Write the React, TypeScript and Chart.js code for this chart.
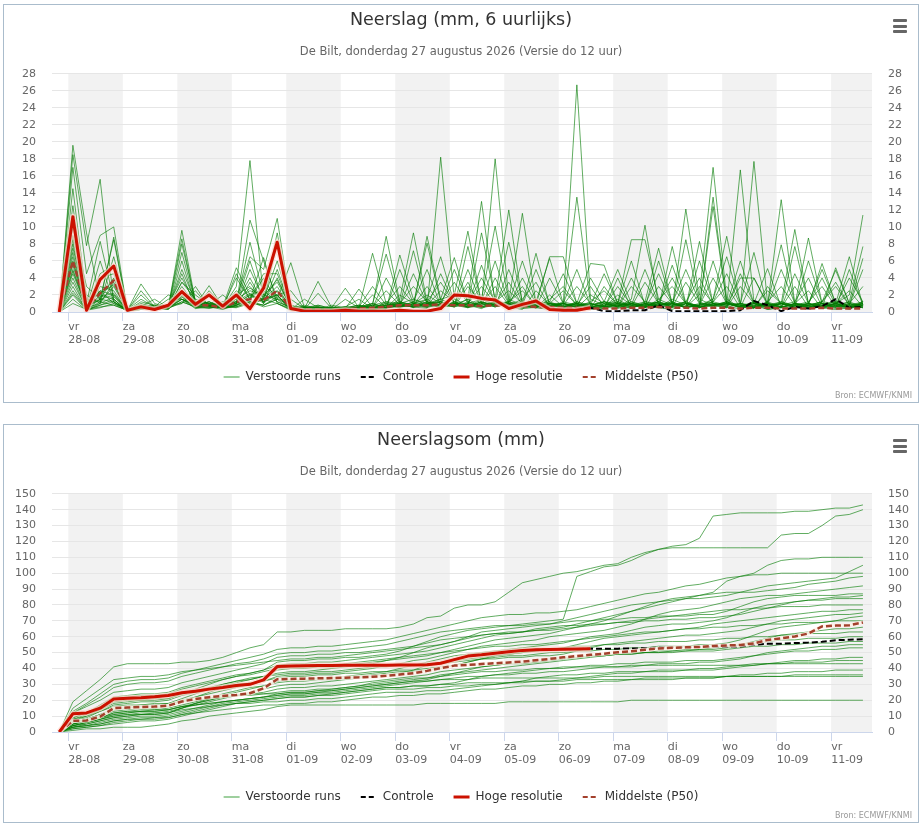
import React, { useEffect, useRef } from 'react';
import { Chart, registerables } from 'chart.js';

Chart.register(...registerables);
Chart.defaults.font.family = '"DejaVu Sans", Verdana, sans-serif';
Chart.defaults.color = '#666';

// ---- time axis (hours after 28-08 00:00, 6-hourly values) ----
const HOURS = [
  -4, 2, 8, 14, 20, 26, 32, 38, 44, 50, 56, 62, 68, 74, 80, 86, 92, 98, 104, 110,
  116, 122, 128, 134, 140, 146, 152, 158, 164, 170, 176, 182, 188, 194, 200, 206, 212, 218, 224, 230,
  236, 242, 248, 254, 260, 266, 272, 278, 284, 290, 296, 302, 308, 314, 320, 326, 332, 338, 344, 350,
];
const DAY_TICKS = [0, 24, 48, 72, 96, 120, 144, 168, 192, 216, 240, 264, 288, 312, 336];
const DAY_NAMES = ['vr', 'za', 'zo', 'ma', 'di', 'wo', 'do', 'vr', 'za', 'zo', 'ma', 'di', 'wo', 'do', 'vr'];
const DAY_DATES = ['28-08', '29-08', '30-08', '31-08', '01-09', '02-09', '03-09', '04-09', '05-09', '06-09', '07-09', '08-09', '09-09', '10-09', '11-09'];
const SHADED_DAYS = [0, 48, 96, 144, 192, 240, 288, 336];

// ---- 6-hourly precipitation (mm) ----
const HRES_6H = [0,
  11.2, 0.2, 3.8, 5.4, 0.2, 0.6, 0.3, 0.8, 2.4, 0.9, 2.0, 0.7, 2.0, 0.4, 2.8, 8.2,
  0.4, 0.1, 0.1, 0.1, 0.2, 0.1, 0.1, 0.1, 0.2, 0.1, 0.1, 0.4, 2.0, 1.9, 1.6, 1.4,
  0.4, 0.9, 1.3, 0.3, 0.2, 0.2, 0.5];
const CONTROL_6H = [0,
  11.2, 0.2, 3.8, 5.4, 0.2, 0.6, 0.3, 0.8, 2.4, 0.9, 2.0, 0.7, 2.0, 0.4, 2.8, 8.2,
  0.4, 0.1, 0.1, 0.1, 0.2, 0.1, 0.1, 0.1, 0.2, 0.1, 0.1, 0.4, 2.0, 1.9, 1.6, 1.4,
  0.4, 0.9, 1.3, 0.3, 0.2, 0.2, 0.5, 0.1, 0.1, 0.2, 0.2, 0.8, 0.1, 0.1, 0.1, 0.1,
  0.1, 0.2, 1.3, 0.8, 0.1, 0.6, 0.4, 0.7, 1.5, 0.5, 0.6];
const P50_6H = [0,
  6, 0.5, 2.2, 3.7, 0.2, 0.6, 0.4, 0.6, 2.4, 0.8, 0.8, 0.5, 1.2, 1.5, 1.4, 2.5,
  0.4, 0.3, 0.3, 0.2, 0.3, 0.4, 0.5, 0.6, 0.8, 0.8, 0.8, 0.9, 0.8, 0.8, 0.7, 0.8,
  0.7, 0.7, 0.6, 0.6, 0.5, 0.5, 0.4, 0.4, 0.4, 0.5, 0.5, 0.6, 0.5, 0.5, 0.4, 0.5,
  0.5, 0.4, 0.5, 0.5, 0.4, 0.4, 0.4, 0.5, 0.4, 0.4, 0.4];
const ENSEMBLE_6H = [
  [0, 19.6,9.3,1.2,0.8, 0.2,0.5,0.4,0.6, 5,1.2,0.8,0.5, 3,17.8,1.5,1, 0.4,0.2,0.5,0.3, 0.2,0.5,0.3,0.8, 1.2,0.6,0.4,18.2, 1.5,0.8,0.4,1.2, 0.6,0.3,2.5,0.8, 1,0.5,0.3,0.6, 0.8,0.4,1.2,7.5, 1,0.6,2,17, 1.5,0.5,0.8,0.3, 0.6,1,2.5,0.4, 0.8,0.3,1.2],
  [0, 18.5,7.8,15.6,1.2, 0.2,0.6,0.3,0.5, 1.5,0.8,2,0.4, 1,10.8,6,1.5, 0.8,0.3,0.2,0.2, 0.1,0.2,0.5,0.8, 1,0.5,1,1.5, 2,9.5,1,18, 1.5,0.8,0.5,0.3, 0.5,0.3,0.6,0.4, 4,0.5,1,0.5, 0.3,1,0.5,1.2, 3,0.5,1,0.3, 0.5,4.5,1,0.5, 0.3,0.5,1],
  [0, 17,4.5,9,10, 0.2,3.3,1,0.5, 9.6,1.2,1,0.5, 1.5,6.5,5,11, 0.5,0.4,3.6,0.5, 0.3,0.5,0.2,0.3, 6.7,1.5,1,0.5, 1,0.6,1.2,0.8, 1,0.5,0.5,2, 0.6,1,0.4,0.8, 1.5,0.6,0.8,1, 0.5,12.1,1.5,0.8, 1,0.6,0.4,3, 1,0.5,0.8,0.4, 1,2,11.4],
  [0, 14.5,1.5,1.2,8.8, 0.3,0.8,0.5,0.6, 8.6,1,0.8,0.6, 5.2,2,1.5,9.3, 0.6,0.3,0.4,0.2, 0.4,0.6,1,0.5, 1.5,9.3,1.2,0.8, 0.6,1,1.5,0.8, 1.2,11.6,1,0.5, 0.4,0.8,0.5,1, 0.6,3,1.2,0.8, 1,0.5,0.8,1.5, 8.9,1,0.5,0.8, 1.2,0.6,1,0.5, 5.2,1,0.5],
  [0, 12.5,1,8.3,1.5, 0.1,0.7,1.5,0.5, 1,3,0.6,0.8, 1,8.2,2,1.5, 5.8,0.5,0.3,0.4, 0.5,0.3,0.8,1.2, 0.6,1,2,1, 0.8,1.5,13,1, 0.6,1,0.8,0.4, 0.5,0.8,3,0.6, 0.4,1,0.6,0.8, 1.2,0.5,8.3,1, 0.6,0.4,1,0.8, 0.5,3,0.6,1, 0.4,0.8,0.5],
  [0, 10,3,1.5,8.5, 0.2,0.5,0.6,2, 1.5,0.8,3.1,0.6, 1.2,4,1,8.2, 0.4,0.6,0.3,0.5, 2.8,0.5,0.3,0.6, 1,0.8,8.9,1.5, 0.8,0.5,1.2,0.6, 1,0.4,0.6,1.5, 3,0.8,0.5,1, 0.6,1.5,10.2,0.8, 0.5,1,0.6,0.8, 1.2,0.5,17.7,1, 0.6,0.8,0.4,1, 0.5,5,0.8],
  [0, 9,2,1,6.5, 0.3,0.4,0.8,0.5, 8,1.2,1,0.4, 4.5,1.5,3,2, 0.3,1.5,0.5,0.2, 0.5,0.8,0.4,1, 0.8,7.2,1,0.6, 1.2,0.6,1,1.5, 12,1,0.6,0.8, 0.5,1,0.4,3, 0.8,0.5,1,0.6, 1.5,0.8,0.5,1, 0.6,4,4,0.8, 1,0.5,0.8,0.6, 1,0.4,0.8],
  [0, 8,0.5,6,1.2, 0.2,2.5,0.6,0.4, 1.2,0.6,0.8,2, 0.8,1.5,6.4,1, 0.3,0.5,0.2,0.6, 0.4,2.7,0.5,0.8, 1,0.6,1.5,6.5, 1,0.5,0.8,1.2, 0.6,1,6.9,0.8, 0.5,1.2,0.6,0.4, 1,0.8,0.5,1.5, 3,1,0.6,13.5, 1,0.8,0.5,1.2, 0.6,0.4,1,4, 0.8,0.5,1],
  [0, 7,0.4,4.5,5.5, 0.3,2,0.5,0.8, 1,2.5,0.6,0.5, 1,6,1.2,2, 2.5,0.4,0.6,0.3, 0.2,0.5,6.9,1, 0.6,1.2,0.8,1.5, 6.4,1,0.5,0.8, 1,0.6,1.2,6.3, 1,0.5,0.8,0.6, 2,0.8,0.5,1, 0.6,1.2,4,0.8, 0.5,1,0.6,0.8, 13.2,1,0.5,0.8, 0.6,1,3],
  [0, 6,0.5,4,4.5, 0.2,0.8,0.4,1.5, 1.5,0.6,2.5,0.8, 0.6,3.5,1,5, 0.5,0.3,0.8,0.4, 0.6,0.3,2,0.5, 1,0.8,8.1,1.2, 0.8,1.5,0.6,1, 3.5,0.8,0.5,1, 1,26.7,1.5,0.8, 0.5,1,0.6,0.8, 1,0.5,0.8,4, 1,0.6,1.2,0.5, 1,9.7,1,0.6, 0.8,0.5,1],
  [0, 5.5,0.3,3,2.5, 0.1,0.6,0.3,0.5, 7,1,0.8,0.6, 2.5,1,1.5,6, 0.6,0.3,2.2,0.4, 0.3,0.6,0.8,8.9, 1.2,0.8,0.6,1, 0.6,7.7,1,0.8, 1.2,3,0.6,1, 0.8,0.5,2,1, 0.6,1.2,0.8,0.5, 7.7,1,0.6,0.8, 1,0.5,4,1, 0.6,0.8,0.5,1.2, 3.5,0.8,0.5],
  [0, 5,0.4,2.5,2, 0.3,1.5,0.6,0.4, 6,0.8,1.2,0.6, 4,1.5,4.5,4.5, 0.5,0.6,0.3,0.8, 0.5,0.4,1,6.8, 1,1.5,0.8,0.6, 1,0.8,9.3,1.5, 0.8,1,0.6,4, 1,0.6,0.8,1.2, 1,8.5,8.5,1.5, 0.8,0.6,1,0.8, 0.5,3,1,0.6, 1,0.8,8.7,1, 0.6,0.8,1.2],
  [0, 4.5,0.5,2,1.5, 0.2,1.2,0.8,0.6, 4.5,0.6,0.4,0.8, 1,2,1.2,4, 0.4,0.6,0.5,0.3, 1.5,0.5,0.8,0.4, 5,1,0.6,1.2, 0.8,1,3,1, 8.2,1.2,0.8,0.5, 1,0.6,1.2,2.5, 0.8,0.5,1,0.6, 5.5,1,0.6,0.8, 1,0.5,0.8,1, 7.9,1,0.6,0.5, 1,2.5,0.6],
  [0, 4,0.3,1.5,4, 0.2,0.4,0.5,0.8, 4,1,0.6,0.5, 0.8,5,1.5,2, 0.3,0.5,0.8,0.4, 0.6,1.5,0.4,0.8, 0.6,1.2,5,0.8, 1,0.6,1.5,10.1, 1.2,0.8,0.6,1, 0.5,13.5,1,0.6, 0.8,1,0.5,3, 1,0.6,0.8,1.2, 4.5,0.8,0.6,1, 0.5,1,0.8,5.7, 1,0.6,0.8],
  [0, 3,0.2,1,3.5, 0.1,0.3,0.6,0.4, 3.5,2,0.8,0.5, 0.6,1.2,0.8,1.5, 1.5,0.4,0.3,0.6, 0.4,0.8,0.5,4, 1,0.6,1.2,0.8, 5,1.2,0.6,1, 0.8,1.5,3.5,0.6, 1,0.8,0.5,1.2, 5,1,0.6,0.8, 1,0.5,3,1, 0.8,16.7,1.2,0.6, 1,0.5,0.8,1, 0.6,1.2,7.7],
  [0, 2.5,0.3,1.2,3, 0.2,0.6,0.4,0.5, 3,0.8,1.2,0.4, 0.8,1.5,4,1.2, 0.6,0.2,0.5,0.3, 0.5,0.3,0.6,1, 3,1,0.8,1.2, 0.6,3,1,0.8, 1,6,1.2,0.6, 0.8,1,0.5,0.6, 3,0.8,1.2,1, 0.6,8.5,1,0.8, 1,0.6,0.5,1.2, 3,0.8,1,0.6, 1,0.8,6.3],
  [0, 2,0.2,0.8,1.5, 0.1,0.5,0.3,0.6, 2.5,0.6,1,0.8, 1.2,0.8,1.5,3, 0.4,0.6,0.3,0.2, 0.3,0.6,3,0.8, 0.5,1,1.5,0.6, 1.2,0.8,5.5,1, 0.6,0.8,1,1.2, 4.5,1,0.6,0.8, 1,0.6,3.5,1, 0.8,1.2,0.6,12.4, 1,0.8,0.6,1, 0.8,1.2,4,0.6, 1,0.5,0.8],
  [0, 1.5,0.2,0.5,1, 0.1,0.3,0.5,0.4, 2,0.5,0.8,0.6, 0.5,1,0.8,1.5, 0.3,0.2,0.6,0.4, 0.2,0.5,0.3,0.6, 0.8,4.5,1,0.8, 1,0.6,1.2,6, 1,0.8,0.5,1, 0.8,3,1,0.6, 0.8,1.2,0.6,6, 1,0.8,0.5,1, 0.6,4.5,1,0.8, 0.5,1,0.8,1.2, 4.9,1,0.6],
  [0, 1,0.3,0.6,0.8, 0.2,0.4,0.3,0.6, 1.5,0.4,0.6,0.3, 0.8,1.2,0.6,1, 0.2,0.3,0.5,0.2, 0.4,0.2,0.6,2.5, 0.8,0.6,1,1.2, 0.8,5,1,0.6, 1.2,0.8,5,1, 0.6,1,0.8,1.2, 0.6,4,1,0.8, 1.2,0.6,6,1, 0.8,1,0.6,2.5, 1,0.6,0.8,1.2, 1,6.5,0.8],
  [0, 6.5,0.6,1.5,2, 0.2,0.8,0.5,0.3, 2.5,1.2,0.6,1, 1.5,2.5,2,3.5, 0.6,0.4,0.2,0.5, 0.3,0.6,1,0.5, 2,1,0.6,4.5, 1,0.8,1.2,0.6, 5,1,0.8,1.2, 0.6,1,5.7,5.5, 1,0.8,0.6,1.2, 0.8,1,0.6,1.5, 6.5,1,0.8,0.6, 1,0.8,1.2,3, 0.6,1,0.8],
  [0, 5.8,0.8,2.5,1, 0.3,0.5,0.8,0.6, 3.5,1.5,1,0.6, 2,3,1.2,2.5, 0.8,0.3,0.6,0.4, 0.5,0.8,0.4,1.2, 1,3,1.2,0.6, 0.8,1,4,1.2, 0.6,1,0.8,6.5, 6.5,1,0.6,0.8, 1.2,0.6,1,0.8, 1,5,1.2,0.6, 1,0.8,0.5,1, 0.6,7.7,1,0.8, 1.2,0.6,1],
  [0, 8.5,0.5,1,1.8, 0.2,0.6,0.4,0.8, 1.8,0.6,1.2,0.5, 1,2,2.5,1.2, 0.5,0.8,0.4,0.3, 0.6,0.4,0.8,0.6, 1.2,0.8,3,1, 0.6,1.2,0.8,4, 1,0.6,1.2,0.8, 1,5,0.8,1.2, 0.6,1,0.8,4.5, 1,0.6,0.8,1.2, 0.8,1,7,0.6, 1,0.8,0.6,1, 0.8,4,1.2],
  [0, 3.5,0.4,1.8,2.2, 0.2,1,0.6,0.4, 1.5,0.8,0.5,0.6, 1.2,2.2,1,2.5, 0.4,0.6,0.3,0.5, 0.2,0.5,0.6,0.4, 0.8,0.6,1.2,3.5, 1,0.8,0.6,1.2, 0.8,4,1,0.6, 1.2,0.8,1,0.6, 1,6,0.8,1.2, 0.6,1,0.8,6, 1,0.6,1.2,0.8, 1,0.6,6,1, 0.8,1.2,0.6],
  [0, 4.8,0.6,1.5,1.2, 0.1,0.6,0.3,0.5, 1.2,0.6,0.8,0.4, 0.8,1.8,1.5,2, 0.3,0.5,0.6,0.2, 0.4,0.3,0.5,0.8, 0.6,1,0.8,2.5, 1.2,0.6,1,3, 0.8,1.2,0.6,1, 2.5,0.8,1,0.6, 1.2,0.8,5,1, 0.8,1.2,0.6,1, 0.8,6,1,0.6, 1.2,0.8,1,5, 1,0.6,1.2],
  [0, 7.5,1.2,2.2,3.2, 0.3,0.8,0.6,0.5, 2.2,1,0.8,1.2, 1.2,2.8,1.8,3.8, 0.6,0.4,0.5,0.3, 0.4,0.6,0.3,0.5, 0.8,0.6,1,1.2, 3.5,1,0.8,1.2, 2.5,1,0.8,0.6, 1,0.6,4,1.2, 0.8,1,0.6,1.2, 4,1,0.8,0.6, 1.2,0.8,1,5.1, 0.6,1,0.8,1.2, 3,0.8,1],
  [0, 2.2,0.3,0.8,1.2, 0.2,0.5,0.4,0.3, 1.8,0.5,0.6,0.8, 0.6,1.2,0.8,1.8, 0.3,0.5,0.2,0.4, 0.6,0.4,0.3,0.5, 0.6,0.8,0.5,1, 0.8,3.5,0.6,1, 1.2,2.5,0.8,1, 0.6,1.2,0.8,4.5, 1,0.6,0.8,1.2, 0.6,3.5,1,0.8, 1.2,0.6,1,0.8, 5,1,0.6,0.8, 1.2,0.8,5],
];

// ---- accumulated precipitation (mm) ----
const HRES_SUM = [0,
  11.5, 12, 15, 20.8, 21.2, 21.6, 22.2, 23, 24.7, 25.7, 27, 28, 29.3, 30, 32.8, 41.2,
  41.6, 41.7, 41.8, 41.9, 42, 42, 42.1, 42.1, 42.2, 42.2, 42.3, 43.3, 45.6, 47.8, 48.6, 49.6,
  50.5, 51.4, 51.8, 52, 52.1, 52.3, 52.4];
const CONTROL_SUM = [0,
  11.5, 12, 15, 20.8, 21.2, 21.6, 22.2, 23, 24.7, 25.7, 27, 28, 29.3, 30, 32.8, 41.2,
  41.6, 41.7, 41.8, 41.9, 42, 42, 42.1, 42.1, 42.2, 42.2, 42.3, 43.3, 45.6, 47.8, 48.6, 49.6,
  50.5, 51.4, 51.8, 52, 52.1, 52.3, 52.4, 52.5, 52.5, 52.6, 52.7, 53.2, 53.3, 53.4, 53.5, 53.6,
  53.7, 53.9, 55.0, 55.5, 55.6, 56.0, 56.3, 56.8, 57.8, 58.1, 58.4];
const P50_SUM = [0,
  7, 7.2, 9.7, 15, 15.4, 15.8, 16, 16.6, 19.2, 20.8, 21.9, 22.7, 23.3, 24.4, 27.5, 33.2,
  33.4, 33.6, 33.8, 34, 34.2, 34.4, 34.8, 35.4, 36.2, 37, 38.5, 40.2, 41.8, 42.3, 42.8, 43.3,
  43.8, 44.3, 45.2, 46, 47, 47.8, 48.6, 49.3, 50.2, 50.8, 51.8, 52.6, 53, 53.3, 53.6, 54.2,
  54.5, 54.8, 55.8, 58, 59, 60.2, 62, 66.5, 67, 67.2, 69];
const ENSEMBLE_SUM = [
  [0, 19,26,33,41, 43,43,43,43, 44,44,45,47, 50,53,55,63, 63,64,64,64, 65,65,65,65, 66,68,72,73, 78,80,80,82, 88,94,96,98, 100,101,103,105, 106,110,113,115, 117,118,122,136, 137,138,138,138, 138,139,139,140, 141,141,143],
  [0, 9,12,17,22, 23,24,24,25, 28,30,32,34, 36,37,39,44, 45,45,46,46, 47,47,48,49, 51,54,57,60, 62,64,65,66, 67,68,69,70, 71,98,101,104, 105,108,112,115, 116,116,116,116, 116,116,116,116, 124,125,125,130, 136,137,140],
  [0, 12,16,20,25, 26,27,27,28, 31,33,35,37, 39,41,43,47, 48,48,49,49, 50,50,51,52, 53,54,56,58, 59,60,61,62, 62,63,64,65, 66,68,70,72, 74,76,78,80, 82,84,86,88, 95,98,100,105, 108,109,109,110, 110,110,110],
  [0, 7,9,13,17, 18,19,19,20, 23,25,27,29, 31,33,35,39, 40,40,41,41, 42,43,44,45, 47,50,53,55, 57,60,63,64, 65,66,67,68, 70,72,74,76, 78,80,81,82, 83,84,84,85, 86,88,90,92, 93,94,95,96, 97,101,105],
  [0, 13,18,24,30, 32,33,33,34, 37,39,41,43, 45,47,49,52, 53,53,54,54, 55,56,57,58, 60,62,64,66, 68,70,72,73, 74,74,75,75, 76,77,79,81, 83,85,87,88, 90,92,93,95, 97,98,99,99, 100,100,100,100, 100,100,100],
  [0, 8,10,14,19, 20,20,21,21, 24,26,28,30, 32,33,35,37, 38,38,39,40, 41,42,43,45, 46,47,48,50, 52,54,56,58, 59,60,61,62, 64,66,68,70, 73,76,79,82, 84,85,86,87, 88,88,88,89, 90,91,93,94, 95,97,98],
  [0, 6,8,11,14, 15,16,16,17, 20,22,24,26, 28,30,32,35, 36,36,37,37, 38,39,40,42, 43,45,46,48, 50,52,54,55, 56,57,58,60, 61,62,63,64, 66,68,71,74, 76,77,78,80, 82,84,85,86, 86,87,88,89, 90,91,92],
  [0, 12,17,22,28, 30,31,31,32, 35,37,39,41, 43,44,46,49, 50,50,51,51, 52,53,54,55, 57,59,61,63, 64,65,66,67, 67,67,68,68, 69,70,70,71, 71,72,72,73, 73,73,74,74, 76,79,82,84, 85,86,86,86, 86,87,87],
  [0, 5,7,9,12, 13,14,14,15, 17,19,21,23, 25,27,29,32, 33,33,34,34, 35,36,37,38, 40,42,44,46, 48,49,50,51, 52,53,54,55, 56,58,60,61, 62,64,66,67, 68,68,69,70, 72,75,78,80, 81,82,83,84, 85,85,86],
  [0, 8,11,14,18, 19,20,20,21, 24,27,30,33, 35,37,39,42, 43,43,44,44, 45,46,47,48, 49,50,51,53, 55,57,59,61, 62,63,65,66, 67,67,68,68, 69,69,70,70, 71,71,72,72, 73,74,76,78, 80,82,83,83, 84,84,84],
  [0, 15,21,27,33, 34,35,35,36, 38,39,40,41, 42,43,44,45, 46,46,47,47, 48,49,50,51, 52,53,54,55, 57,59,61,62, 63,63,64,64, 65,66,67,68, 69,70,71,72, 73,74,75,76, 77,77,78,78, 79,79,79,80, 80,80,80],
  [0, 4,6,8,10, 11,12,12,13, 15,17,19,21, 23,25,27,29, 30,30,31,32, 33,34,35,36, 37,39,42,44, 45,46,47,48, 49,50,51,52, 53,55,57,59, 60,61,62,63, 64,65,66,68, 69,70,71,72, 73,74,75,76, 76,77,77],
  [0, 6,8,11,15, 16,17,17,18, 21,24,27,30, 32,34,35,36, 37,37,38,38, 39,40,41,41, 42,42,43,43, 44,45,46,46, 47,47,48,48, 49,51,53,55, 56,57,58,59, 60,61,61,62, 63,64,66,68, 70,71,72,73, 74,74,75],
  [0, 5,7,10,13, 14,15,15,16, 19,22,25,28, 30,31,32,34, 35,35,36,36, 37,37,38,38, 39,39,40,41, 42,44,46,47, 48,48,49,50, 50,51,51,52, 52,53,53,54, 54,54,55,55, 56,58,61,64, 66,67,68,69, 70,72,73],
  [0, 9,12,16,21, 22,23,23,24, 27,29,31,33, 35,36,38,40, 41,41,42,42, 43,44,45,46, 47,48,49,50, 51,52,53,54, 54,55,55,56, 57,58,59,60, 61,62,63,63, 64,65,65,66, 66,67,67,68, 68,69,69,69, 70,70,70],
  [0, 4,6,8,11, 12,13,13,14, 16,18,20,22, 23,24,25,27, 28,28,29,29, 30,31,32,33, 34,35,36,38, 39,40,41,42, 43,43,44,45, 46,47,48,48, 49,49,50,50, 51,51,52,52, 53,55,57,59, 61,62,63,64, 65,65,66],
  [0, 3,5,7,9, 10,11,11,12, 15,18,21,24, 26,28,29,31, 32,32,33,33, 34,35,36,37, 38,38,39,40, 42,44,46,48, 49,50,51,52, 53,54,54,55, 55,56,56,57, 57,57,58,58, 59,59,60,60, 61,61,62,62, 62,63,63],
  [0, 7,10,13,16, 17,17,18,18, 19,20,21,22, 23,24,24,25, 26,26,27,27, 28,29,30,31, 32,33,34,36, 37,38,39,40, 41,42,43,44, 45,46,47,48, 49,50,50,51, 51,52,52,53, 54,55,56,57, 58,58,59,59, 59,60,60],
  [0, 3,4,6,8, 9,10,10,11, 13,15,17,19, 20,21,22,24, 25,25,26,26, 27,28,29,30, 31,32,33,35, 37,39,41,42, 43,44,45,46, 47,47,48,48, 49,49,50,50, 50,51,51,51, 52,53,54,54, 55,55,56,56, 56,57,57],
  [0, 5,7,9,12, 13,13,14,14, 16,17,18,19, 20,21,22,23, 24,24,25,25, 26,27,28,29, 30,31,32,33, 34,35,35,36, 36,37,37,38, 38,39,40,41, 41,42,42,43, 43,43,44,44, 45,46,48,50, 51,52,53,54, 54,55,55],
  [0, 3,4,5,7, 8,9,9,10, 12,14,16,18, 19,20,21,22, 23,23,24,24, 25,26,27,28, 28,29,29,30, 31,33,35,36, 37,38,39,40, 41,41,42,42, 43,43,44,44, 44,45,45,45, 46,47,48,49, 50,51,51,52, 52,53,53],
  [0, 4,6,8,10, 11,11,12,12, 14,15,16,17, 18,19,20,21, 22,22,23,23, 24,25,26,27, 27,27,28,28, 29,29,30,30, 31,31,32,32, 33,34,35,36, 37,37,38,38, 38,39,39,39, 40,41,42,43, 44,45,45,46, 46,47,47],
  [0, 2,3,4,6, 7,8,8,9, 11,13,15,17, 18,18,19,19, 20,20,21,21, 22,23,24,25, 25,25,26,26, 27,28,29,30, 31,32,34,35, 36,36,37,37, 38,38,38,39, 39,39,40,40, 41,42,42,43, 43,44,44,44, 45,45,45],
  [0, 4,5,7,9, 10,11,11,12, 15,18,20,22, 23,23,24,24, 25,25,26,27, 28,29,31,32, 33,34,34,35, 36,37,38,38, 39,39,40,40, 40,41,41,41, 41,41,42,42, 42,42,42,42, 42,42,43,43, 43,43,43,43, 43,43,43],
  [0, 3,4,5,7, 8,8,9,9, 11,12,13,14, 15,16,17,17, 18,18,19,19, 20,21,22,22, 23,23,24,24, 25,26,27,27, 28,29,29,30, 30,31,31,32, 32,33,33,33, 33,34,34,34, 35,36,36,37, 37,38,38,38, 39,39,39],
  [0, 2,3,4,5, 6,7,7,8, 10,12,14,16, 18,19,20,21, 22,22,23,24, 25,26,27,28, 28,29,29,30, 30,31,31,31, 31,32,32,32, 32,33,33,33, 33,33,34,34, 34,34,34,34, 35,35,35,35, 35,36,36,36, 36,36,36],
  [0, 5,7,9,11, 12,13,13,14, 16,17,18,19, 20,21,22,23, 24,24,25,26, 27,28,29,30, 31,32,32,33, 33,33,34,34, 34,34,34,34, 34,34,34,35, 35,35,35,35, 35,35,35,35, 35,35,35,35, 35,35,35,35, 35,35,35],
  [0, 1,2,2,3, 3,3,4,5, 7,8,10,11, 12,13,14,16, 17,17,17,17, 17,17,17,17, 17,17,18,18, 18,18,18,18, 19,19,19,19, 19,19,19,19, 19,20,20,20, 20,20,20,20, 20,20,20,20, 20,20,20,20, 20,20,20],
];

const SUBTITLE = 'De Bilt, donderdag 27 augustus 2026 (Versie do 12 uur)';
const MEMBER_COLOR = 'rgba(0,122,0,0.62)';
const HRES_COLOR = '#cc1100';
const P50_COLOR = '#a3402c';

const toXY = (arr: number[]) => arr.map((v, i) => ({ x: HOURS[i], y: v }));

const decorPlugin = {
  id: 'decor',
  beforeDraw(chart: any) {
    const { ctx, chartArea, scales } = chart;
    const xs = scales.x;
    ctx.save();
    ctx.fillStyle = '#f2f2f2';
    SHADED_DAYS.forEach((d) => {
      const a = Math.max(xs.getPixelForValue(d), chartArea.left);
      const b = Math.min(xs.getPixelForValue(d + 24), chartArea.right);
      if (b > a) ctx.fillRect(a, chartArea.top, b - a, chartArea.bottom - chartArea.top);
    });
    ctx.restore();
  },
};

function buildConfig(title: string, yMax: number, yStep: number, members: number[][], control: number[], hres: number[], p50: number[], p50Halo: boolean): any {
  const datasets: any[] = [
    { label: 'Hoge resolutie', data: toXY(hres), borderColor: HRES_COLOR, borderWidth: 3, order: 0 },
    { label: 'hres-halo', data: toXY(hres), borderColor: 'rgba(255,215,205,0.7)', borderWidth: 6, order: 1 },
    { label: 'Middelste (P50)', data: toXY(p50), borderColor: P50_COLOR, borderWidth: 2.5, borderDash: [6, 3], order: 2 },
    { label: 'p50-halo', data: toXY(p50), borderColor: p50Halo ? 'rgba(255,240,232,0.85)' : 'rgba(0,0,0,0)', borderWidth: 4, order: 3 },
    { label: 'Controle', data: toXY(control), borderColor: '#000', borderWidth: 2, borderDash: [6, 3], order: 4 },
    ...members.map((m, k) => ({ label: 'run ' + (k + 1), data: toXY(m), borderColor: MEMBER_COLOR, borderWidth: 1, order: 5 })),
  ];
  const legendItems = [
    { text: 'Verstoorde runs', strokeStyle: 'rgba(0,128,0,0.38)', lineWidth: 2, lineDash: [] },
    { text: 'Controle', strokeStyle: '#000', lineWidth: 2, lineDash: [5, 3] },
    { text: 'Hoge resolutie', strokeStyle: HRES_COLOR, lineWidth: 3, lineDash: [] },
    { text: 'Middelste (P50)', strokeStyle: P50_COLOR, lineWidth: 2, lineDash: [5, 3] },
  ];
  const yTicks = { stepSize: yStep, padding: 16, font: { size: 11 }, color: '#666', autoSkip: false };
  return {
    type: 'line',
    data: { datasets },
    plugins: [decorPlugin],
    options: {
      responsive: false,
      animation: false,
      events: [],
      elements: {
        point: { radius: 0 },
        line: { tension: 0, borderJoinStyle: 'round', borderCapStyle: 'butt', fill: false },
      },
      layout: { padding: { left: 0, right: 0, top: 0, bottom: 9 } },
      scales: {
        x: {
          type: 'linear',
          position: 'bottom',
          min: -7.2,
          max: 354,
          afterBuildTicks: (scale: any) => {
            scale.ticks = DAY_TICKS.map((v) => ({ value: v }));
          },
          afterFit: (scale: any) => {
            scale.height = 39;
          },
          ticks: {
            autoSkip: false,
            maxRotation: 0,
            minRotation: 0,
            align: 'start',
            padding: -1,
            font: { size: 11, lineHeight: 1.25 },
            color: '#666',
            callback: (value: number) => {
              const k = DAY_TICKS.indexOf(value);
              return k >= 0 ? [DAY_NAMES[k], DAY_DATES[k]] : '';
            },
          },
          grid: { drawOnChartArea: false, drawTicks: true, tickLength: 9, color: '#ccd6eb' },
          border: { display: true, color: '#ccd6eb' },
        },
        y: {
          type: 'linear',
          position: 'left',
          min: 0,
          max: yMax,
          afterFit: (scale: any) => {
            scale.width = 48;
          },
          ticks: yTicks,
          grid: { color: '#e6e6e6', drawTicks: false },
          border: { display: false },
        },
        y2: {
          type: 'linear',
          position: 'right',
          min: 0,
          max: yMax,
          afterFit: (scale: any) => {
            scale.width = 46;
          },
          ticks: yTicks,
          grid: { drawOnChartArea: false, drawTicks: false },
          border: { display: false },
        },
      },
      plugins: {
        tooltip: { enabled: false },
        title: {
          display: true,
          text: title,
          color: '#333',
          font: { size: 17.5, weight: 'normal' },
          padding: { top: 5, bottom: 0 },
        },
        subtitle: {
          display: true,
          text: SUBTITLE,
          color: '#666',
          font: { size: 11.5, weight: 'normal' },
          padding: { top: 14, bottom: 15 },
        },
        legend: {
          display: true,
          position: 'bottom',
          onClick: () => {},
          labels: {
            usePointStyle: true,
            pointStyleWidth: 16,
            boxHeight: 12,
            padding: 20,
            color: '#333',
            font: { size: 12 },
            generateLabels: () =>
              legendItems.map((it, i) => ({
                text: it.text,
                fillStyle: it.strokeStyle,
                strokeStyle: it.strokeStyle,
                lineWidth: it.lineWidth,
                lineDash: it.lineDash,
                lineCap: 'butt',
                pointStyle: 'line',
                hidden: false,
                fontColor: '#333',
                datasetIndex: i,
              })),
          },
        },
      },
    },
  };
}

function Panel(props: { top: number; config: () => any }) {
  const ref = useRef<HTMLCanvasElement | null>(null);
  useEffect(() => {
    if (!ref.current) return;
    const chart = new Chart(ref.current, props.config());
    return () => chart.destroy();
  }, []);
  return (
    <div
      style={{
        position: 'absolute',
        left: 3,
        top: props.top,
        width: 914,
        height: 397,
        border: '1px solid #aabccc',
        background: '#fff',
      }}
    >
      <canvas ref={ref} width={914} height={397} style={{ display: 'block', width: 914, height: 397 }} />
      <div style={{ position: 'absolute', left: 889, top: 14, width: 14 }}>
        <div style={{ height: 3, background: '#666', borderRadius: 1 }} />
        <div style={{ height: 3, background: '#666', borderRadius: 1, marginTop: 2.5 }} />
        <div style={{ height: 3, background: '#666', borderRadius: 1, marginTop: 2.5 }} />
      </div>
      <span
        style={{
          position: 'absolute',
          right: 6,
          top: 386,
          fontFamily: '"DejaVu Sans", Verdana, sans-serif',
          fontSize: 8,
          lineHeight: '10px',
          color: '#999',
          whiteSpace: 'nowrap',
        }}
      >
        Bron: ECMWF/KNMI
      </span>
    </div>
  );
}

export default function App() {
  return (
    <div>
      <Panel top={4} config={() => buildConfig('Neerslag (mm, 6 uurlijks)', 28, 2, ENSEMBLE_6H, CONTROL_6H, HRES_6H, P50_6H, false)} />
      <Panel top={424} config={() => buildConfig('Neerslagsom (mm)', 150, 10, ENSEMBLE_SUM, CONTROL_SUM, HRES_SUM, P50_SUM, true)} />
    </div>
  );
}
